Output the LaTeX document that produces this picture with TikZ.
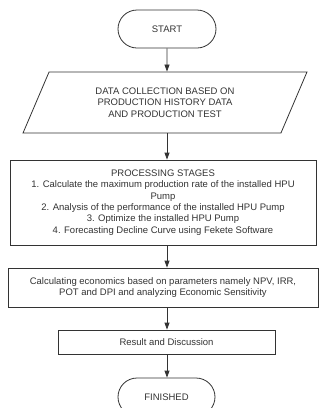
\documentclass[tikz,border=0pt]{standalone}
\usepackage{fontspec}
\setmainfont{Liberation Sans}
\usetikzlibrary{arrows.meta, shapes.geometric, shapes.misc}

\begin{document}
\begin{tikzpicture}[x=1pt,y=-1pt,
  every node/.style={font=\fontsize{9.5}{11.3}\selectfont, text=black!80, align=center},
  terminal/.style={draw=black!80, line width=0.8pt, rounded rectangle, minimum width=98pt, minimum height=38pt, inner sep=0pt},
  databox/.style={draw=black!80, line width=0.8pt, trapezium, trapezium left angle=62, trapezium right angle=118,
    trapezium stretches=true, minimum width=284pt, minimum height=61pt, inner sep=0pt},
  procbox/.style={draw=black!80, line width=0.8pt, rectangle, inner sep=0pt},
  arr/.style={draw=black!80, line width=0.8pt, -{Triangle[length=7pt,width=5pt]}}]
\useasboundingbox (0,0) rectangle (320,408);
\node[terminal] (start) at (167,29) {START};
\node[databox] (data) at (165,102.5) {DATA COLLECTION BASED ON\\PRODUCTION HISTORY DATA\\AND PRODUCTION TEST};
\node[procbox, minimum width=306pt, minimum height=85pt] (proc) at (163,202.5)
  {PROCESSING STAGES\\
   1. Calculate the maximum production rate of the installed HPU\\
   Pump\\
   2. Analysis of the performance of the installed HPU Pump\\
   3. Optimize the installed HPU Pump\\
   4. Forecasting Decline Curve using Fekete Software};
\node[procbox, minimum width=310pt, minimum height=39pt] (econ) at (163,287.5)
  {Calculating economics based on parameters namely NPV, IRR,\\POT and DPI and analyzing Economic Sensitivity};
\node[procbox, minimum width=217pt, minimum height=24pt] (result) at (166.5,342) {Result and Discussion};
\node[terminal, minimum width=97pt] (finish) at (166.5,397) {FINISHED};
% connectors
\draw[arr] (start) -- (start |- data.north);
\draw[arr] (start |- data.south) -- (start |- proc.north);
\draw[arr] (start |- proc.south) -- (start |- econ.north);
\draw[arr] (start |- econ.south) -- (start |- result.north);
\draw[arr] (start |- result.south) -- (start |- finish.north);
\end{tikzpicture}
\end{document}
